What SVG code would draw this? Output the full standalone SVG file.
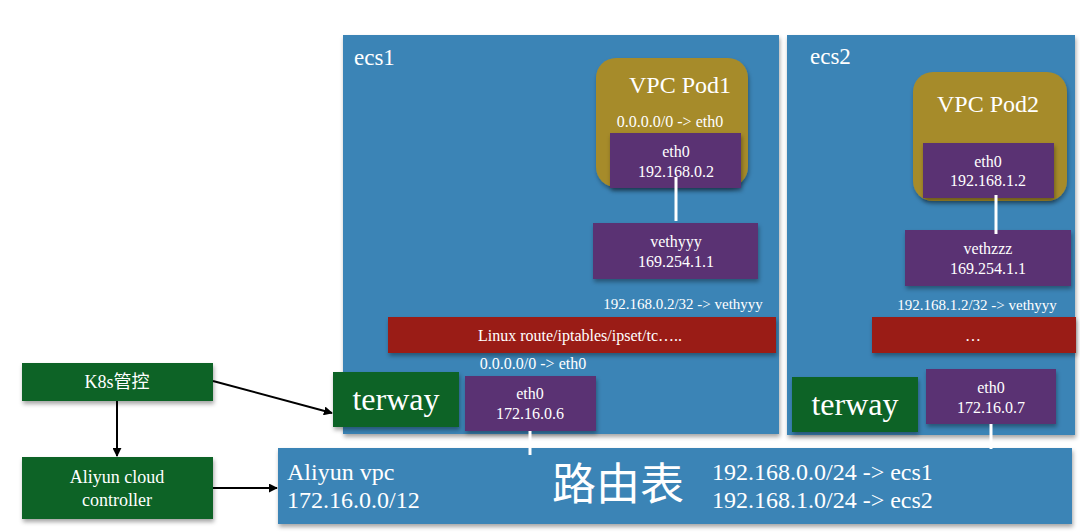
<svg xmlns="http://www.w3.org/2000/svg" width="1080" height="532" viewBox="0 0 1080 532" font-family="Liberation Serif, Times New Roman, DejaVu Serif, serif">
<defs>
<filter id="sh" x="-10%" y="-10%" width="120%" height="130%">
<feDropShadow dx="1" dy="3" stdDeviation="2" flood-color="#000" flood-opacity="0.35"/>
</filter>
<marker id="ah" viewBox="0 0 10 10" refX="9" refY="5" markerWidth="9" markerHeight="9" markerUnits="userSpaceOnUse" orient="auto">
<path d="M0,0 L10,5 L0,10 z" fill="#000"/>
</marker>
<style>
.host{fill:#3b84b6;filter:url(#sh)}
.pod{fill:#a68b2c;filter:url(#sh)}
.nic{fill:#5a3273;filter:url(#sh)}
.red{fill:#9a1f13;filter:url(#sh)}
.grn{fill:#0e6428;filter:url(#sh)}
text{fill:#fff}
.c{text-anchor:middle}
.s16{font-size:16px}
.s15{font-size:15px}
.wl{stroke:#fff;stroke-width:3;fill:none}
.bl{stroke:#000;stroke-width:2;fill:none;marker-end:url(#ah)}
</style>
</defs>
<rect width="1080" height="532" fill="#fff"/>

<g id="ecs1">
<rect class="host" x="343" y="35" width="436" height="399"/>
<text x="354" y="65" font-size="23">ecs1</text>
</g>
<g id="ecs2">
<rect class="host" x="787" y="35" width="288" height="400"/>
<text x="810" y="64" font-size="23">ecs2</text>
</g>

<g id="pod1">
<rect class="pod" x="596" y="58" width="152" height="129" rx="20"/>
<text class="c" x="680" y="93" font-size="24">VPC Pod1</text>
<text class="c s16" x="670" y="127">0.0.0.0/0 -&gt; eth0</text>
</g>
<g id="pod1-eth0">
<rect class="nic" x="610" y="133" width="131" height="55"/>
<text class="c s16" x="676" y="157">eth0</text>
<text class="c s16" x="676" y="177">192.168.0.2</text>
</g>
<g id="vethyyy">
<rect class="nic" x="593" y="223" width="165" height="56"/>
<text class="c s16" x="676" y="247">vethyyy</text>
<text class="c s16" x="676" y="267">169.254.1.1</text>
<text class="c s15" x="683" y="309">192.168.0.2/32 -&gt; vethyyy</text>
</g>
<g id="linux1">
<rect class="red" x="388" y="317" width="388" height="36"/>
<text class="c s16" x="580" y="341">Linux route/iptables/ipset/tc…..</text>
</g>
<g id="terway1">
<rect class="grn" x="333" y="372" width="126" height="55"/>
<text class="c" x="396" y="410" font-size="32">terway</text>
</g>
<g id="ecs1-eth0">
<text class="c s16" x="533" y="369">0.0.0.0/0 -&gt; eth0</text>
<rect class="nic" x="465" y="376" width="131" height="55"/>
<text class="c s16" x="530" y="399">eth0</text>
<text class="c s16" x="530" y="419">172.16.0.6</text>
</g>

<g id="pod2">
<rect class="pod" x="913" y="72" width="154" height="129" rx="20"/>
<text class="c" x="988" y="112" font-size="24">VPC Pod2</text>
</g>
<g id="pod2-eth0">
<rect class="nic" x="923" y="143" width="131" height="55"/>
<text class="c s16" x="988" y="167">eth0</text>
<text class="c s16" x="988" y="186">192.168.1.2</text>
</g>
<g id="vethzzz">
<rect class="nic" x="905" y="230" width="166" height="56"/>
<text class="c s16" x="988" y="254">vethzzz</text>
<text class="c s16" x="988" y="274">169.254.1.1</text>
<text class="c s15" x="977" y="310">192.168.1.2/32 -&gt; vethyyy</text>
</g>
<g id="linux2">
<rect class="red" x="872" y="317" width="204" height="36"/>
<text class="c s16" x="973" y="341">…</text>
</g>
<g id="terway2">
<rect class="grn" x="792" y="377" width="126" height="55"/>
<text class="c" x="855" y="415" font-size="32">terway</text>
</g>
<g id="ecs2-eth0">
<rect class="nic" x="926" y="369" width="130" height="55"/>
<text class="c s16" x="991" y="393">eth0</text>
<text class="c s16" x="991" y="413">172.16.0.7</text>
</g>

<g id="vpc">
<rect class="host" x="278" y="448" width="794" height="76"/>
<text x="287" y="480" font-size="24">Aliyun vpc</text>
<text x="287" y="508" font-size="24">172.16.0.0/12</text>
<text class="c" x="618" y="500" font-size="44" font-family="Noto Sans CJK SC, sans-serif">路由表</text>
<text x="712" y="480" font-size="24">192.168.0.0/24 -&gt; ecs1</text>
<text x="712" y="508" font-size="24">192.168.1.0/24 -&gt; ecs2</text>
</g>

<g id="k8s">
<rect class="grn" x="22" y="363" width="191" height="38"/>
<text class="c" x="117" y="388" font-size="18" font-family="Liberation Serif, Noto Sans CJK SC, serif">K8s管控</text>
</g>
<g id="acc">
<rect class="grn" x="22" y="457" width="191" height="62"/>
<text class="c" x="117" y="483" font-size="18">Aliyun cloud</text>
<text class="c" x="117" y="506" font-size="18">controller</text>
</g>

<g id="connectors">
<line class="wl" x1="676" y1="177" x2="676" y2="221"/>
<line class="wl" x1="996" y1="195" x2="996" y2="234"/>
<line class="wl" x1="530" y1="431" x2="530" y2="455"/>
<line class="wl" x1="991" y1="424" x2="991" y2="449"/>
<line class="bl" x1="117" y1="401" x2="117" y2="456"/>
<line class="bl" x1="213" y1="381" x2="332" y2="413"/>
<line class="bl" x1="213" y1="488" x2="277" y2="488"/>
</g>
</svg>
